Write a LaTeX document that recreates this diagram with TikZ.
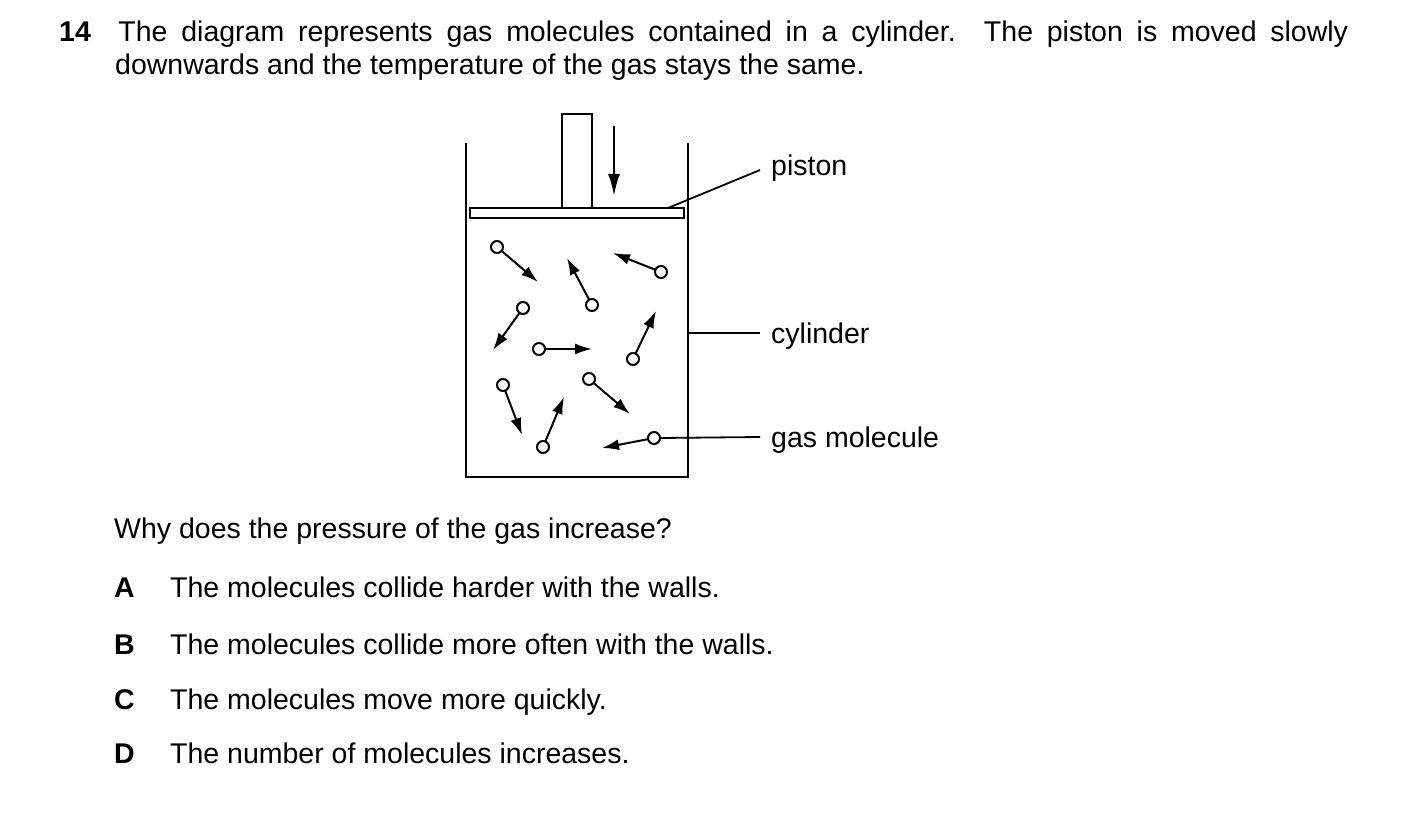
\documentclass[tikz,border=0pt]{standalone}
\usepackage{fontspec}
\setmainfont{Liberation Sans}
\usetikzlibrary{arrows.meta}
\begin{document}
\fontsize{28.5}{33}\selectfont
\begin{tikzpicture}[x=1pt,y=-1pt,line width=2.4pt,
		mol/.style = {circle, draw, line width=2pt, fill=white, minimum size=12pt, inner sep=0pt},
		vel/.style = {-{Latex[length=17pt,width=11pt]}, line width=2pt},
		lab/.style = {anchor=base west, inner sep=0pt}]
	\useasboundingbox (0,0) rectangle (1403,834);
	
	\node[anchor=base west, inner sep=0pt] (q1) at (58,42)
		{\makebox[1289pt][s]{\textbf{14} \ The diagram represents gas molecules contained in a cylinder. The piston is moved slowly}};
	\node[anchor=base west, inner sep=0pt] (q2) at (114,75)
		{downwards and the temperature of the gas stays the same.};
	
	% cylinder and piston
	\draw (466,143) -- (466,477) -- (688,477) -- (688,143);
	\draw (470,208) rectangle (684,218);
	\draw (562,208) -- (562,114) -- (592,114) -- (592,208);
	\coordinate (p) at (668,208);
	\coordinate (c) at (688,333);
	\draw[-{Latex[length=22pt,width=12pt]}] (614,126) -- (614,196);
	
	% molecules
	\foreach \n/\x/\y/\tx/\ty in {1/497/247/538/282, 2/592/305/567/258, 3/661/272/613/253,
			4/523/308/493/350, 5/539/349/592/349, 6/633/359/656/311, 7/503/385/522/435,
			8/589/379/630/414, 9/543/447/564/397, 10/654/438/602/448}{
		\coordinate (t\n) at (\tx,\ty);
		\draw[vel] (\x,\y) -- (t\n);
		\node[mol] (m\n) at (\x,\y) {};
	}
	
	% labels
	\node[lab] (piston) at (770,176) {piston};
	\node[lab] (cylinder) at (770,343) {cylinder};
	\node[lab] (gas) at (770,447) {gas molecule};
	\draw[line width=1.8pt] (p) -- (760,170);
	\draw[line width=1.8pt] (c) -- (760,333);
	\draw[line width=1.8pt] (m10.east) -- (760,437);
	
	% question and answers
	\node[anchor=base west, inner sep=0pt] (why) at (113,538) {Why does the pressure of the gas increase?};
	\foreach \k/\y/\t in {A/597/The molecules collide harder with the walls.,
			B/654/The molecules collide more often with the walls.,
			C/709/The molecules move more quickly.,
			D/763/The number of molecules increases.}{
		\node[anchor=base west, inner sep=0pt] (k\k) at (113,\y) {\textbf{\k}};
		\node[anchor=base west, inner sep=0pt] (a\k) at (169,\y) {\t};
	}
\end{tikzpicture}
\end{document}
